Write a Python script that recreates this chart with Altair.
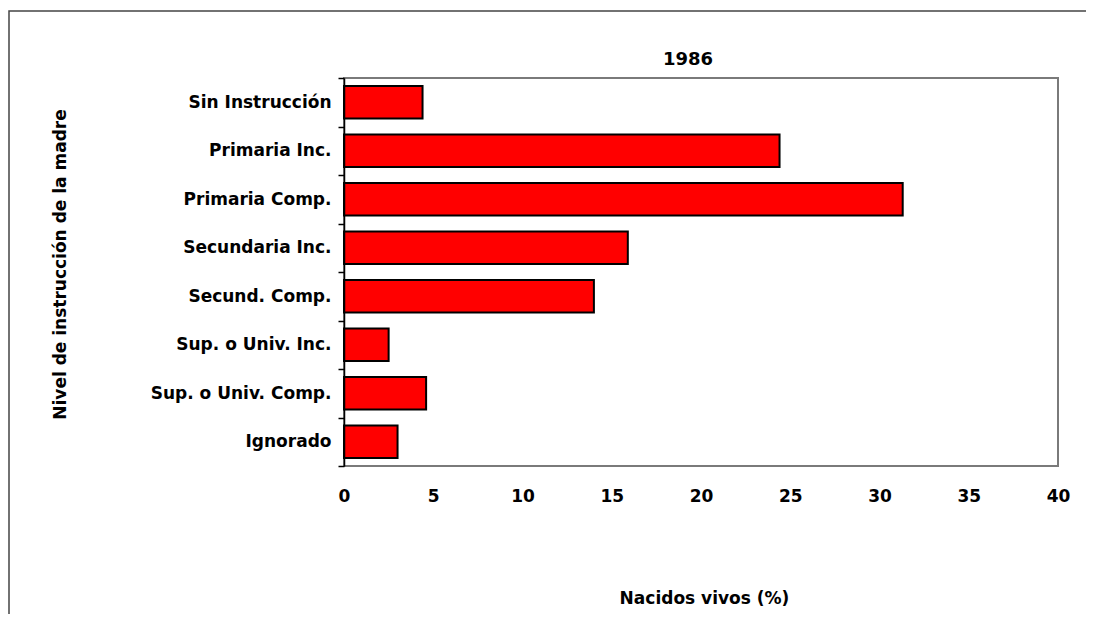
import altair as alt
import pandas as pd

categories = [
    "Sin Instrucción",
    "Primaria Inc.",
    "Primaria Comp.",
    "Secundaria Inc.",
    "Secund. Comp.",
    "Sup. o Univ. Inc.",
    "Sup. o Univ. Comp.",
    "Ignorado",
]
values = [4.4, 24.4, 31.3, 15.9, 14.0, 2.5, 4.6, 3.0]
chart_title = "1986"

df = pd.DataFrame({"nivel": categories, "pct": values})

FONT = "DejaVu Sans"
FS = 17

bars = alt.Chart(df).mark_bar(
    color="#FF0000",
    stroke="#000000",
    strokeWidth=2,
    height=alt.RelativeBandSize(0.67),
).encode(
    x=alt.X(
        "pct:Q",
        scale=alt.Scale(domain=[0, 40], nice=False),
        axis=alt.Axis(
            values=[0, 5, 10, 15, 20, 25, 30, 35, 40],
            title="Nacidos vivos (%)",
            grid=False,
            ticks=False,
            domain=False,
            labelFlush=False,
            labelPadding=22,
            labelFont=FONT,
            labelFontSize=FS,
            labelFontWeight="bold",
            labelColor="#000000",
            titleFont=FONT,
            titleFontSize=FS,
            titleFontWeight="bold",
            titleColor="#000000",
            titleX=360,
            titleY=132,
            titleBaseline="middle",
            titleAnchor="middle",
            titleAlign="center",
        ),
    ),
    y=alt.Y(
        "nivel:N",
        sort=categories,
        scale=alt.Scale(paddingInner=0, paddingOuter=0),
        axis=alt.Axis(
            title="Nivel de instrucción de la madre",
            zindex=1,
            tickBand="extent",
            tickSize=6,
            tickColor="#000000",
            tickWidth=1.5,
            domainColor="#000000",
            domainWidth=1.5,
            labelPadding=7,
            labelLimit=320,
            labelFont=FONT,
            labelFontSize=FS,
            labelFontWeight="bold",
            labelColor="#000000",
            titleFont=FONT,
            titleFontSize=FS,
            titleFontWeight="bold",
            titleColor="#000000",
            titleAngle=270,
            titleX=-284,
            titleY=186,
            titleAlign="center",
            titleBaseline="middle",
        ),
    ),
)

frame = alt.Chart(alt.Data(values=[{"a": 1}])).mark_rect(
    fill=None, stroke="#444444", strokeWidth=1.5, clip=False
).encode(
    x=alt.value(-335),
    x2=alt.value(760),
    y=alt.value(-67),
    y2=alt.value(620),
)

title_mark = alt.Chart(alt.Data(values=[{"t": chart_title}])).mark_text(
    font=FONT,
    fontSize=18,
    fontWeight="bold",
    color="#000000",
    align="center",
    baseline="middle",
).encode(
    x=alt.value(344),
    y=alt.value(-18),
    text="t:N",
)

chart = alt.layer(frame, bars, title_mark).properties(
    width=714,
    height=388,
    background="white",
    autosize=alt.AutoSizeParams(type="none"),
    padding={"left": 336, "top": 70, "right": 28, "bottom": 148},
).configure_view(
    stroke="#7a7a7a", strokeWidth=2
)

chart.save("out.html", embed_options={"renderer": "svg", "actions": False})
